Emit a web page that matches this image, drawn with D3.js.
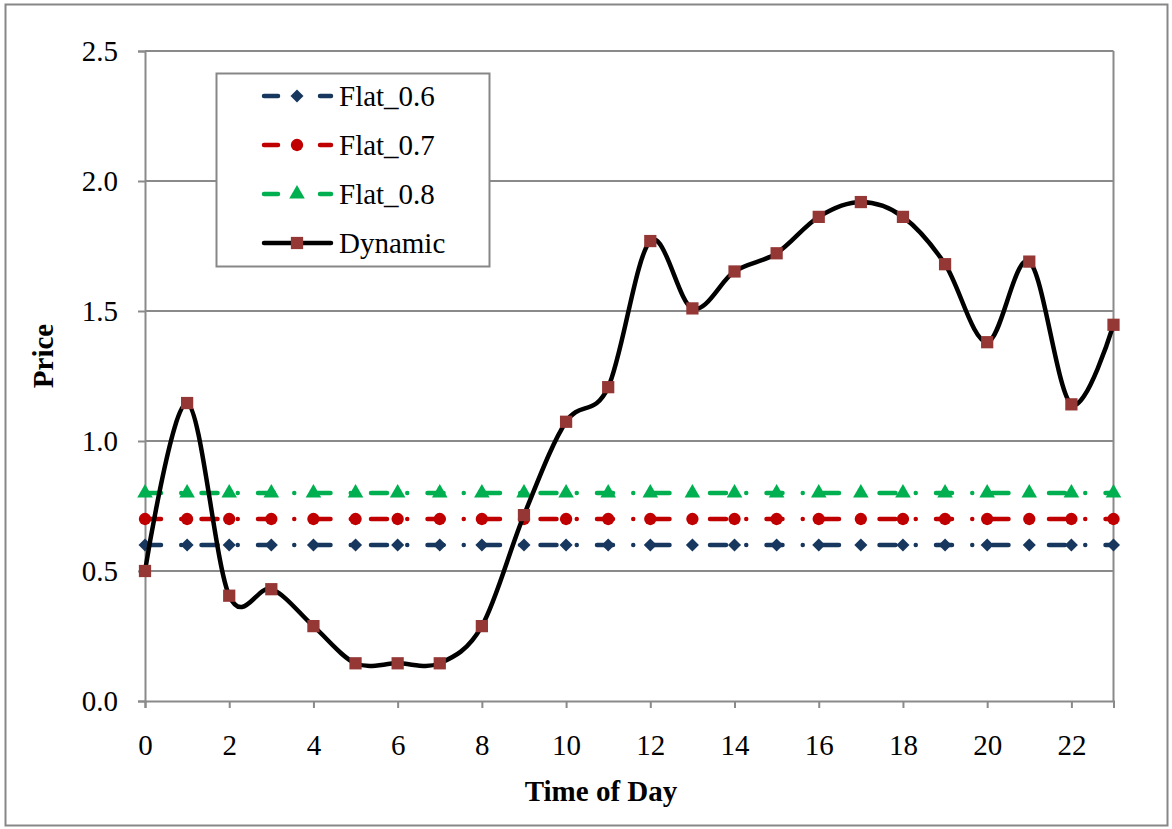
<!DOCTYPE html>
<html>
<head>
<meta charset="utf-8">
<script src="https://cdn.jsdelivr.net/npm/d3@7"></script>
<style>
  html, body { margin: 0; padding: 0; background: #fff; }
  svg { display: block; }
  text { font-family: "Liberation Serif", "Times New Roman", serif; fill: #000; }
</style>
</head>
<body>
<svg id="chart" width="1172" height="829"></svg>
<script>
// Hour of day
const hours = [0,1,2,3,4,5,6,7,8,9,10,11,12,13,14,15,16,17,18,19,20,21,22,23];

// Price series
const flat06 = hours.map(() => 0.6);
const flat07 = hours.map(() => 0.7);
const flat08 = hours.map(() => 0.8);
const dynamic = [0.50, 1.146, 0.405, 0.43, 0.288, 0.145, 0.145, 0.145, 0.288, 0.715,
                 1.074, 1.207, 1.769, 1.51, 1.652, 1.722, 1.862, 1.919, 1.862, 1.68,
                 1.38, 1.69, 1.141, 1.447];

// Axis ticks
const yTicks = [0, 0.5, 1.0, 1.5, 2.0, 2.5];
const xTicks = [0, 2, 4, 6, 8, 10, 12, 14, 16, 18, 20, 22];

const seriesNames = ["Flat_0.6", "Flat_0.7", "Flat_0.8", "Dynamic"];
const seriesColors = ["#17375E", "#C00000", "#00B050", "#000000"];
const markerColors = ["#17375E", "#C00000", "#00B050", "#953735"];
const markerTypes = [d3.symbolSquare, d3.symbolCircle, d3.symbolTriangle, d3.symbolSquare];
const markerRotate = [45, 0, 0, 0];
const markerSizes = [85, 120, 105, 150];
const seriesData = [flat06, flat07, flat08, dynamic];

const FS = 29;
const svg = d3.select("#chart");

// Outer chart border
svg.append("rect")
  .attr("x", 5.5).attr("y", 4.5)
  .attr("width", 1162).attr("height", 821)
  .attr("fill", "#fff").attr("stroke", "#878787").attr("stroke-width", 2);

const x = d3.scaleLinear().domain([0, 23]).range([145, 1113.5]);
const y = d3.scaleLinear().domain([0, 2.5]).range([701, 51]);

const gridColor = "#8a8a8a";

// Horizontal gridlines
svg.append("g").selectAll("line")
  .data(yTicks.filter(t => t > 0))
  .join("line")
  .attr("x1", x(0)).attr("x2", x(23))
  .attr("y1", d => y(d)).attr("y2", d => y(d))
  .attr("stroke", gridColor).attr("stroke-width", 2);

// Right edge of the plot area
svg.append("line")
  .attr("x1", x(23)).attr("x2", x(23))
  .attr("y1", y(2.5)).attr("y2", y(0))
  .attr("stroke", gridColor).attr("stroke-width", 2);

// Y axis
const yAxis = svg.append("g")
  .attr("transform", `translate(${x(0)},0)`)
  .call(d3.axisLeft(y).tickValues(yTicks).tickFormat(d3.format(".1f")).tickSize(7).tickPadding(20));
yAxis.select(".domain").attr("stroke", gridColor).attr("stroke-width", 2);
yAxis.selectAll(".tick line").attr("stroke", gridColor).attr("stroke-width", 2);
yAxis.selectAll(".tick text")
  .attr("font-family", "Liberation Serif").attr("font-size", FS).attr("fill", "#000")
  .attr("dy", "0.34em");

// X axis
const xAxis = svg.append("g")
  .attr("transform", `translate(0,${y(0)})`)
  .call(d3.axisBottom(x).tickValues(xTicks).tickFormat(d3.format("d")).tickSize(7).tickPadding(26));
xAxis.select(".domain").attr("stroke", gridColor).attr("stroke-width", 2);
xAxis.selectAll(".tick line").attr("stroke", gridColor).attr("stroke-width", 2);
xAxis.selectAll(".tick text")
  .attr("font-family", "Liberation Serif").attr("font-size", FS).attr("fill", "#000");

// Axis titles
svg.append("text")
  .attr("x", 601).attr("y", 801)
  .attr("text-anchor", "middle")
  .attr("font-size", FS).attr("font-weight", "bold")
  .text("Time of Day");
svg.append("text")
  .attr("transform", "translate(53,356) rotate(-90)")
  .attr("text-anchor", "middle")
  .attr("font-size", FS).attr("font-weight", "bold")
  .text("Price");

// Series lines and markers
const flatDash = "16,20.25,0,20.25";
const straight = d3.line().x((d, i) => x(hours[i])).y(d => y(d));
const smooth = d3.line().x((d, i) => x(hours[i])).y(d => y(d)).curve(d3.curveCatmullRom.alpha(0));

seriesData.forEach((vals, s) => {
  const isDyn = s === 3;
  const g = svg.append("g");
  g.append("path")
    .datum(vals)
    .attr("d", isDyn ? smooth : straight)
    .attr("fill", "none")
    .attr("stroke", seriesColors[s])
    .attr("stroke-width", 4.5)
    .attr("stroke-linecap", "round")
    .attr("stroke-linejoin", "round")
    .attr("stroke-dasharray", isDyn ? null : flatDash);
  g.selectAll("path.mk")
    .data(vals)
    .join("path")
    .attr("class", "mk")
    .attr("transform", (d, i) => `translate(${x(hours[i])},${y(d)}) rotate(${markerRotate[s]})`)
    .attr("d", d3.symbol().type(markerTypes[s]).size(markerSizes[s]))
    .attr("fill", markerColors[s]);
});

// Legend
const legend = svg.append("g");
legend.append("rect")
  .attr("x", 216.5).attr("y", 73.5)
  .attr("width", 273).attr("height", 193)
  .attr("fill", "#fff").attr("stroke", "#878787").attr("stroke-width", 2);

const rowY = [96, 145, 194, 243];
seriesNames.forEach((name, s) => {
  const cy = rowY[s];
  const row = legend.append("g");
  if (s === 3) {
    row.append("line")
      .attr("x1", 264).attr("x2", 331).attr("y1", cy).attr("y2", cy)
      .attr("stroke", seriesColors[s]).attr("stroke-width", 4.5).attr("stroke-linecap", "round");
  } else {
    [[264, 278], [320, 331]].forEach(([a, b]) => {
      row.append("line")
        .attr("x1", a).attr("x2", b).attr("y1", cy).attr("y2", cy)
        .attr("stroke", seriesColors[s]).attr("stroke-width", 4.5).attr("stroke-linecap", "round");
    });
  }
  row.append("path")
    .attr("transform", `translate(297,${cy}) rotate(${markerRotate[s]})`)
    .attr("d", d3.symbol().type(markerTypes[s]).size(markerSizes[s]))
    .attr("fill", markerColors[s]);
  row.append("text")
    .attr("x", 339).attr("y", cy)
    .attr("dy", "0.35em")
    .attr("font-size", FS)
    .text(name);
});
</script>
</body>
</html>
